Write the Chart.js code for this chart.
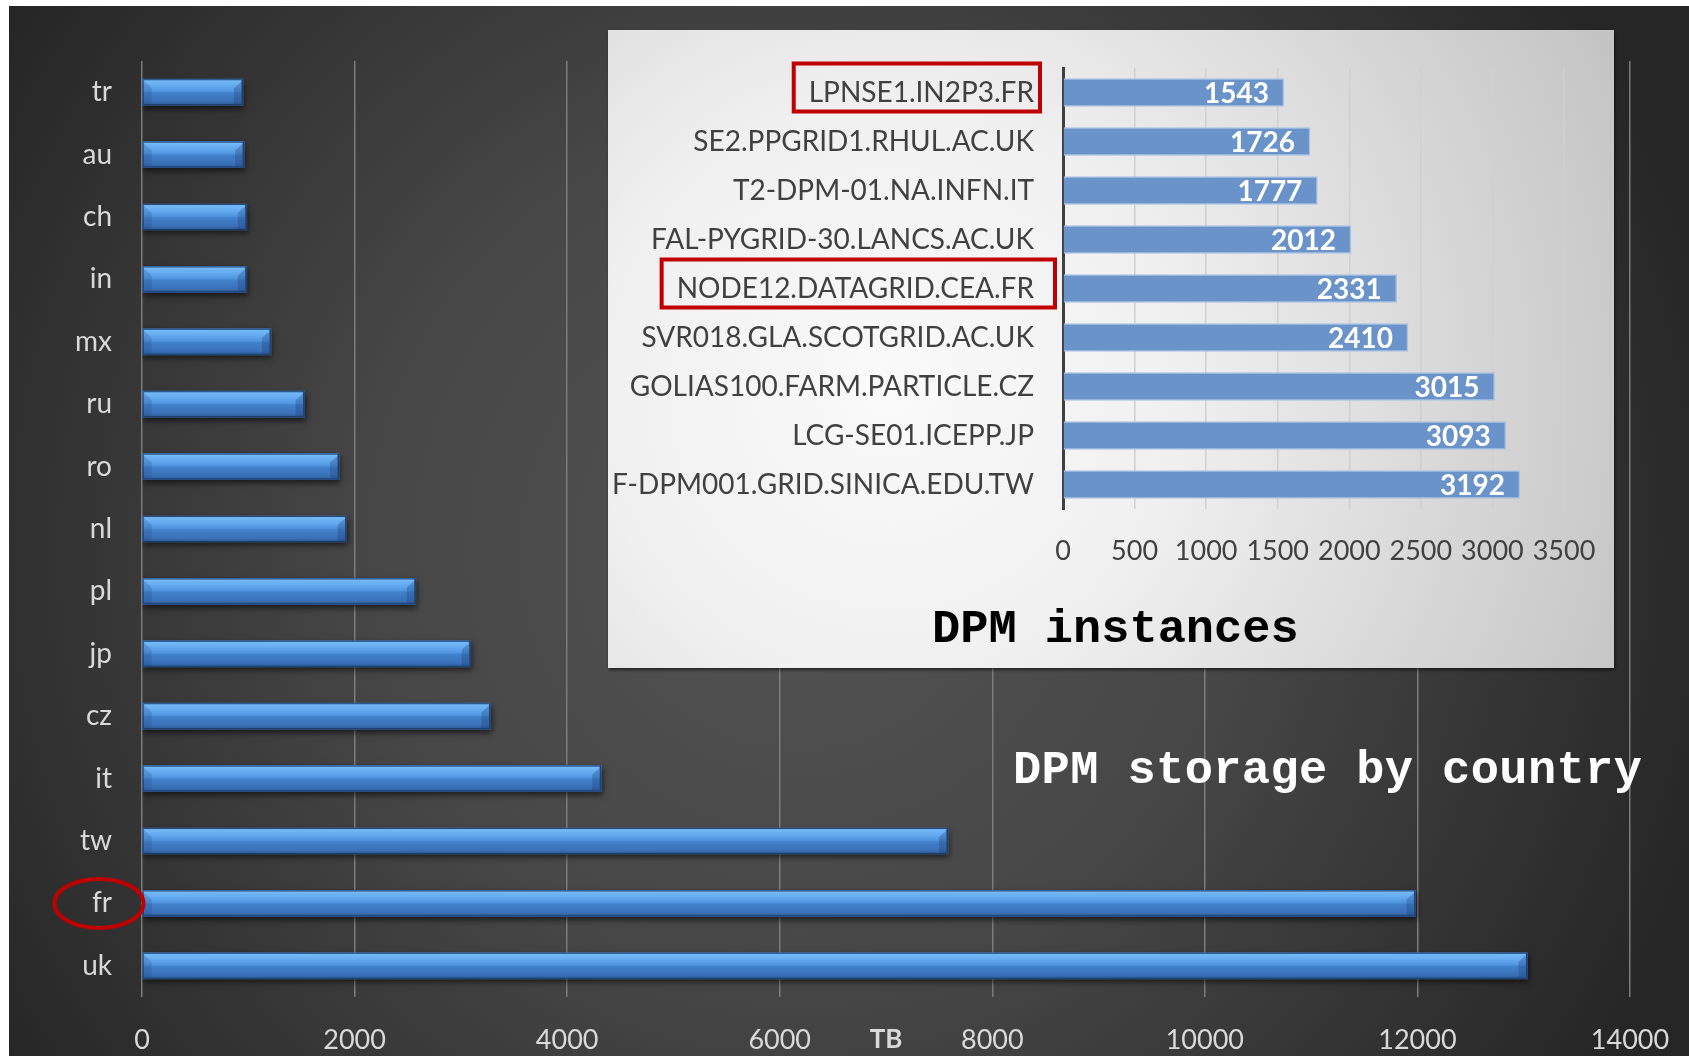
<!DOCTYPE html>
<html>
<head>
<meta charset="utf-8">
<title>DPM storage by country</title>
<script src="https://cdn.jsdelivr.net/npm/chart.js@4.4.1/dist/chart.umd.min.js"></script>
<style>
    html, body { margin: 0; padding: 0; background: #fff; }
    body { width: 1689px; height: 1056px; position: relative; overflow: hidden; }
    #mainWrap { position: absolute; left: 9px; top: 6px; width: 1680px; height: 1050px; }
    #insetWrap { position: absolute; left: 608px; top: 30px; width: 1006px; height: 638px; box-shadow: 1px 2px 3px rgba(0, 0, 0, 0.55); }
    .title { position: absolute; font-family: "Courier New", "Liberation Mono", monospace; font-weight: bold; font-size: 47px; line-height: 47px; white-space: nowrap; }
    #mainTitle { left: 1013px; top: 747px; color: #fff; letter-spacing: 0.4px; }
    #insetTitle { left: 932px; top: 606px; color: #000; }
</style>
</head>
<body>
<div id="mainWrap"><canvas id="storageChart"></canvas></div>
<div id="insetWrap"><canvas id="instancesChart"></canvas></div>
<div class="title" id="mainTitle">DPM storage by country</div>
<div class="title" id="insetTitle">DPM instances</div>
<script>
// DPM storage per country, in TB (top to bottom as drawn)
const countries = ['tr', 'au', 'ch', 'in', 'mx', 'ru', 'ro', 'nl', 'pl', 'jp', 'cz', 'it', 'tw', 'fr', 'uk'];
const storageTB = [950, 961, 986, 986, 1214, 1530, 1854, 1925, 2576, 3093, 3279, 4321, 7583, 11983, 13036];
const storageAxis = { min: 0, max: 14000, step: 2000 };
const storageUnit = 'TB';
const circledCountry = 'fr';

// Largest DPM instances, in TB
const sites = [
    'LPNSE1.IN2P3.FR',
    'SE2.PPGRID1.RHUL.AC.UK',
    'T2-DPM-01.NA.INFN.IT',
    'FAL-PYGRID-30.LANCS.AC.UK',
    'NODE12.DATAGRID.CEA.FR',
    'SVR018.GLA.SCOTGRID.AC.UK',
    'GOLIAS100.FARM.PARTICLE.CZ',
    'LCG-SE01.ICEPP.JP',
    'F-DPM001.GRID.SINICA.EDU.TW'
];
const siteTB = [1543, 1726, 1777, 2012, 2331, 2410, 3015, 3093, 3192];
const instancesAxis = { min: 0, max: 3500, step: 500 };
const boxedSites = ['LPNSE1.IN2P3.FR', 'NODE12.DATAGRID.CEA.FR'];

const labelFont = 'Lato, "Open Sans", sans-serif';

// Glossy bevel on top of the plain bars Chart.js drew
function paintBevelBar(ctx, bar) {
    const { x, y, base, height } = bar.getProps(['x', 'y', 'base', 'height'], true);
    const x0 = Math.min(base, x), x1 = Math.max(base, x);
    const y0 = y - height / 2, y1 = y + height / 2;
    const b = Math.min(9, (x1 - x0) / 2);

    const body = ctx.createLinearGradient(0, y0, 0, y1);
    body.addColorStop(0, '#5296de');
    body.addColorStop(0.07, '#74b8f7');
    body.addColorStop(0.3, '#60a7ee');
    body.addColorStop(0.47, '#5094df');
    body.addColorStop(0.53, '#4181cb');
    body.addColorStop(0.86, '#3a71b7');
    body.addColorStop(1, '#2a548f');
    ctx.fillStyle = body;
    ctx.fillRect(x0, y0, x1 - x0, y1 - y0);

    // right end cap
    ctx.beginPath();
    ctx.moveTo(x1 - b, y0 + b);
    ctx.lineTo(x1, y0 + 1);
    ctx.lineTo(x1, y1 - 1);
    ctx.lineTo(x1 - b, y1 - 1);
    ctx.closePath();
    ctx.fillStyle = 'rgba(25, 60, 115, 0.3)';
    ctx.fill();

    // left end cap
    ctx.beginPath();
    ctx.moveTo(x0, y0 + 1);
    ctx.lineTo(x0 + b, y0 + b);
    ctx.lineTo(x0 + b, y1 - 1);
    ctx.lineTo(x0, y1 - 1);
    ctx.closePath();
    ctx.fillStyle = 'rgba(30, 70, 130, 0.22)';
    ctx.fill();

    ctx.strokeStyle = 'rgba(22, 50, 92, 0.75)';
    ctx.lineWidth = 1;
    ctx.strokeRect(x0 + 0.5, y0 + 0.5, x1 - x0 - 1, y1 - y0 - 1);
    ctx.fillStyle = '#21426f';
    ctx.fillRect(x1 - 1.5, y0, 1.5, y1 - y0);
}

const storageDecor = {
    id: 'storageDecor',
    beforeDraw(chart) {
        const { ctx, width, height } = chart;
        const g = ctx.createRadialGradient(791, 544, 0, 791, 544, 950);
        g.addColorStop(0, '#535353');
        g.addColorStop(0.45, '#474747');
        g.addColorStop(1, '#262626');
        ctx.save();
        ctx.fillStyle = g;
        ctx.fillRect(0, 0, width, height);
        ctx.restore();
    },
    beforeDatasetsDraw(chart) {
        const ctx = chart.ctx;
        ctx.save();
        ctx.shadowColor = 'rgba(0, 0, 0, 0.6)';
        ctx.shadowBlur = 6;
        ctx.shadowOffsetX = 1;
        ctx.shadowOffsetY = 3;
    },
    afterDatasetsDraw(chart) {
        const ctx = chart.ctx;
        ctx.restore();
        ctx.save();
        chart.getDatasetMeta(0).data.forEach(bar => paintBevelBar(ctx, bar));
        ctx.restore();
    },
    afterDraw(chart) {
        const { ctx, chartArea, scales } = chart;
        ctx.save();
        // unit label sits on the tick-label row, centred under the plot
        ctx.font = `bold 26px ${labelFont}`;
        ctx.fillStyle = '#d9d9d9';
        ctx.textAlign = 'center';
        ctx.textBaseline = 'middle';
        ctx.fillText(storageUnit, (chartArea.left + chartArea.right) / 2, scales.x.top + 43);

        // red ring round the highlighted country
        const cy = scales.y.getPixelForValue(countries.indexOf(circledCountry));
        ctx.beginPath();
        ctx.ellipse(scales.y.right - 43, cy, 44.5, 24.5, 0, 0, Math.PI * 2);
        ctx.strokeStyle = '#c00000';
        ctx.lineWidth = 4;
        ctx.stroke();
        ctx.restore();
    }
};

const instancesDecor = {
    id: 'instancesDecor',
    beforeDraw(chart) {
        const { ctx, width, height } = chart;
        const g = ctx.createRadialGradient(280, 360, 0, 280, 360, 820);
        g.addColorStop(0, '#fafafa');
        g.addColorStop(0.35, '#f0f0f0');
        g.addColorStop(1, '#c2c2c2');
        ctx.save();
        ctx.fillStyle = g;
        ctx.fillRect(0, 0, width, height);
        ctx.restore();
    },
    afterDatasetsDraw(chart) {
        const ctx = chart.ctx;
        ctx.save();
        ctx.font = `bold 28px ${labelFont}`;
        ctx.fillStyle = '#fff';
        ctx.textAlign = 'right';
        ctx.textBaseline = 'middle';
        chart.getDatasetMeta(0).data.forEach((bar, i) => {
            ctx.fillText(String(siteTB[i]), bar.x - 15, bar.y + 1);
        });
        ctx.restore();
    },
    afterDraw(chart) {
        const { ctx, scales } = chart;
        const yScale = scales.y;
        const labelRight = yScale.right - 29;
        const rightPad = [6, 21];
        ctx.save();
        ctx.font = `28px ${labelFont}`;
        ctx.strokeStyle = '#c00000';
        ctx.lineWidth = 4;
        boxedSites.forEach((name, k) => {
            const i = sites.indexOf(name);
            const cy = yScale.getPixelForValue(i);
            const w = ctx.measureText(name).width;
            const left = labelRight - w - 15;
            const right = labelRight + rightPad[k];
            ctx.strokeRect(left, cy - 29, right - left, 48);
        });
        ctx.restore();
    }
};

const plainNumber = value => String(value);
// invisible tick marks stand in for label padding, so Chart.js
// does not widen the plot margins on account of it
const hiddenTicks = len => ({ drawTicks: true, tickLength: len, tickColor: 'rgba(0,0,0,0)' });

new Chart(document.getElementById('storageChart'), {
    type: 'bar',
    data: {
        labels: countries,
        datasets: [{
            data: storageTB,
            backgroundColor: '#4080c9',
            barThickness: 26
        }]
    },
    options: {
        indexAxis: 'y',
        responsive: true,
        maintainAspectRatio: false,
        devicePixelRatio: 1,
        animation: false,
        layout: { padding: { top: 55, right: 59, left: 0, bottom: 0 } },
        plugins: { legend: { display: false }, tooltip: { enabled: false } },
        scales: {
            x: {
                min: storageAxis.min,
                max: storageAxis.max,
                ticks: {
                    stepSize: storageAxis.step,
                    callback: plainNumber,
                    maxRotation: 0,
                    autoSkip: false,
                    color: '#d9d9d9',
                    font: { family: labelFont, size: 27 },
                    padding: 0
                },
                grid: { color: '#7c7c7c', lineWidth: 1.5, ...hiddenTicks(27) },
                border: { display: false },
                afterFit: scale => { scale.height = 59; }
            },
            y: {
                ticks: {
                    color: '#d9d9d9',
                    font: { family: labelFont, size: 28 },
                    padding: 0
                },
                grid: { display: false, ...hiddenTicks(30) },
                border: { display: false },
                afterFit: scale => { scale.width = 133; }
            }
        }
    },
    plugins: [storageDecor]
});

new Chart(document.getElementById('instancesChart'), {
    type: 'bar',
    data: {
        labels: sites,
        datasets: [{
            data: siteTB,
            backgroundColor: '#6a94c9',
            borderColor: '#a9c2e3',
            borderWidth: 1.5,
            barThickness: 28
        }]
    },
    options: {
        indexAxis: 'y',
        responsive: true,
        maintainAspectRatio: false,
        devicePixelRatio: 1,
        animation: false,
        layout: { padding: { top: 38, right: 50, left: 0, bottom: 0 } },
        plugins: { legend: { display: false }, tooltip: { enabled: false } },
        scales: {
            x: {
                min: instancesAxis.min,
                max: instancesAxis.max,
                ticks: {
                    stepSize: instancesAxis.step,
                    callback: plainNumber,
                    maxRotation: 0,
                    autoSkip: false,
                    color: '#404040',
                    font: { family: labelFont, size: 27 },
                    padding: 0
                },
                grid: { color: '#d0d0d0', lineWidth: 1.5, ...hiddenTicks(26) },
                border: { display: false },
                afterFit: scale => { scale.height = 159; }
            },
            y: {
                ticks: {
                    color: '#404040',
                    font: { family: labelFont, size: 28 },
                    padding: 0
                },
                grid: { display: false, ...hiddenTicks(29) },
                border: { display: true, color: '#404040', width: 3 },
                afterFit: scale => { scale.width = 455; }
            }
        }
    },
    plugins: [instancesDecor]
});
</script>
</body>
</html>
